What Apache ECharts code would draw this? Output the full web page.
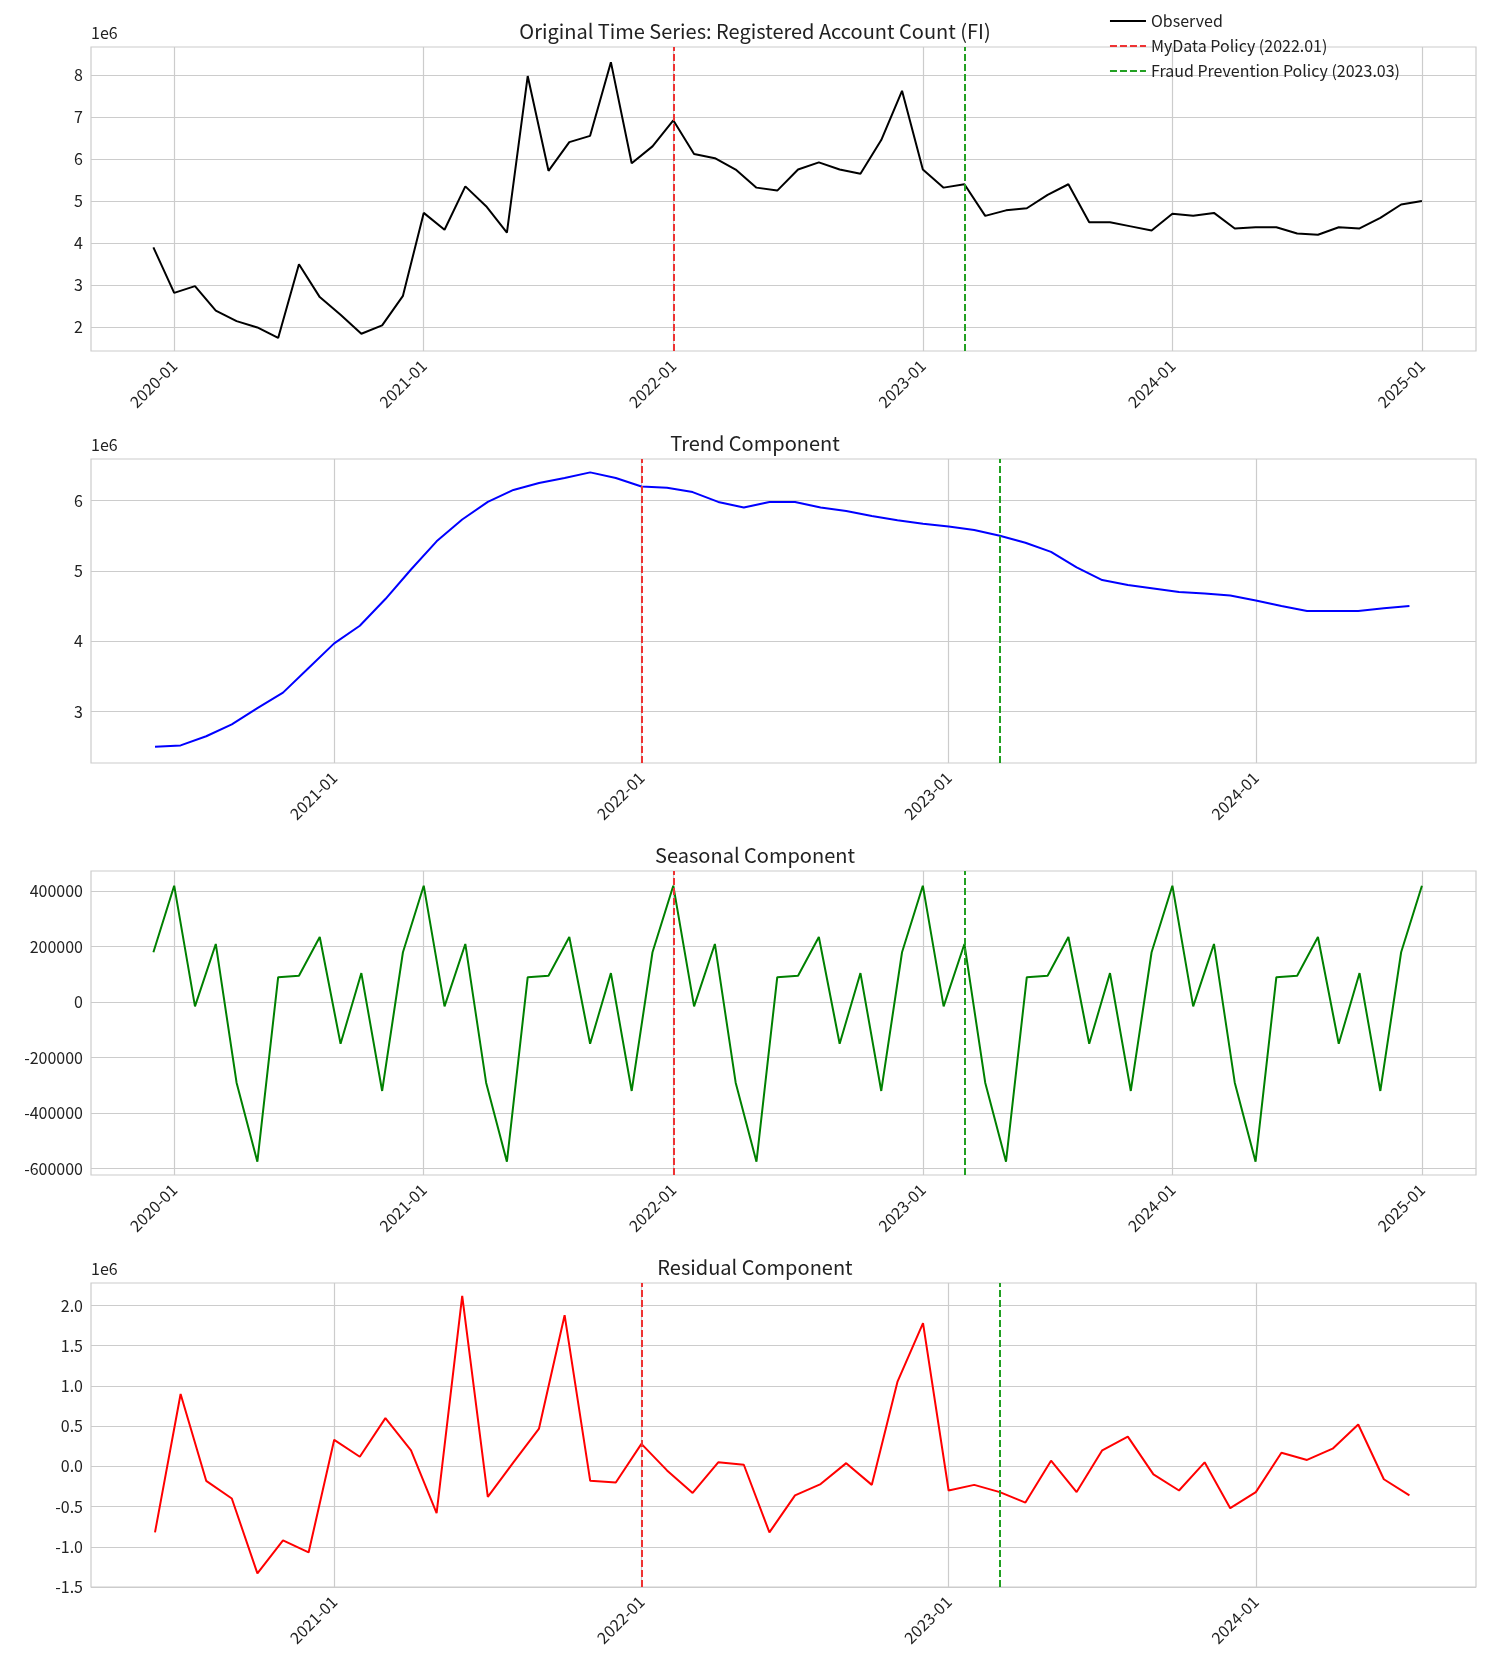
<!DOCTYPE html>
<html>
<head>
  <meta charset="utf-8">
  <title>Decomposition</title>
  <script src="https://cdn.jsdelivr.net/npm/echarts@6/dist/echarts.min.js"></script>
</head>
<body style="margin:0;background:#fff">
<div id="main" style="width:1510px;height:1676px;"></div>
<script type="text/javascript">
  // monthly data, 2019-12 .. 2025-01 (observed, seasonal), 2020-06 .. 2024-07 (trend, residual)
  var obsStart = '2019-12';
  var observed = [3.9,
    2.82, 2.98, 2.4, 2.15, 2.0, 1.75, 3.5, 2.72, 2.3, 1.85, 2.05, 2.75,
    4.72, 4.32, 5.35, 4.88, 4.25, 7.97, 5.72, 6.4, 6.55, 8.3, 5.9, 6.3,
    6.92, 6.12, 6.02, 5.75, 5.32, 5.25, 5.75, 5.92, 5.75, 5.65, 6.45, 7.62,
    5.75, 5.32, 5.4, 4.65, 4.78, 4.83, 5.15, 5.4, 4.5, 4.5, 4.4, 4.3,
    4.7, 4.65, 4.72, 4.35, 4.38, 4.38, 4.23, 4.2, 4.38, 4.35, 4.6, 4.92,
    5.0];
  var seasonal = [180000,
    420000, -15000, 210000, -290000, -575000, 90000, 95000, 235000, -150000, 105000, -320000, 180000,
    420000, -15000, 210000, -290000, -575000, 90000, 95000, 235000, -150000, 105000, -320000, 180000,
    420000, -15000, 210000, -290000, -575000, 90000, 95000, 235000, -150000, 105000, -320000, 180000,
    420000, -15000, 210000, -290000, -575000, 90000, 95000, 235000, -150000, 105000, -320000, 180000,
    420000, -15000, 210000, -290000, -575000, 90000, 95000, 235000, -150000, 105000, -320000, 180000,
    420000];
  var compStart = '2020-06';
  var trend = [2.5, 2.52, 2.65, 2.82, 3.05, 3.27, 3.62,
    3.97, 4.22, 4.6, 5.02, 5.42, 5.73, 5.98, 6.15, 6.25, 6.32, 6.4, 6.32,
    6.2, 6.18, 6.12, 5.98, 5.9, 5.98, 5.98, 5.9, 5.85, 5.78, 5.72, 5.67,
    5.63, 5.58, 5.5, 5.4, 5.27, 5.05, 4.87, 4.8, 4.75, 4.7, 4.68, 4.65,
    4.58, 4.5, 4.43, 4.43, 4.43, 4.47, 4.5];
  var residual = [-0.82, 0.9, -0.18, -0.4, -1.33, -0.92, -1.07,
    0.33, 0.12, 0.6, 0.2, -0.58, 2.12, -0.38, 0.05, 0.47, 1.88, -0.18, -0.2,
    0.28, -0.05, -0.33, 0.05, 0.02, -0.82, -0.36, -0.22, 0.04, -0.23, 1.05, 1.78,
    -0.3, -0.23, -0.32, -0.45, 0.07, -0.32, 0.2, 0.37, -0.1, -0.3, 0.05, -0.52,
    -0.32, 0.17, 0.08, 0.22, 0.52, -0.16, -0.36];
  var titles = ['Original Time Series: Registered Account Count (FI)', 'Trend Component', 'Seasonal Component', 'Residual Component'];
  var policyDates = ['2022-01', '2023-03'];
  var policyNames = ['MyData Policy (2022.01)', 'Fraud Prevention Policy (2023.03)'];
  var obsTicks = ['2020-01', '2021-01', '2022-01', '2023-01', '2024-01', '2025-01'];
  var compTicks = ['2021-01', '2022-01', '2023-01', '2024-01'];

  function toIdx(s) {
    var p = s.split('-');
    return (parseInt(p[0]) - 2020) * 12 + parseInt(p[1]) - 1;
  }
  function toLabel(v) {
    var y = 2020 + Math.floor(v / 12), m = v - Math.floor(v / 12) * 12 + 1;
    return y + '-' + (m < 10 ? '0' + m : m);
  }
  function pairs(start, arr) {
    var s = toIdx(start);
    return arr.map(function (v, i) { return [s + i, v]; });
  }

  var font = 'Noto Sans CJK KR';
  var tops = [47, 459, 871, 1283];
  var xRanges = [[-4.0, 62.6], [2.5, 56.6], [-4.0, 62.6], [2.5, 56.6]];
  var yRanges = [[1.44, 8.66], [2.27, 6.59], [-623000, 473000], [-1.5, 2.28]];
  var yTicks = [[2, 3, 4, 5, 6, 7, 8], [3, 4, 5, 6], [-600000, -400000, -200000, 0, 200000, 400000],
    [-1.5, -1.0, -0.5, 0.0, 0.5, 1.0, 1.5, 2.0]];
  var xTicks = [obsTicks, compTicks, obsTicks, compTicks];

  var grids = [], xAxes = [], yAxes = [], series = [], title = [], graphic = [];
  for (var k = 0; k < 4; k++) {
    grids.push({left: 91, right: 34, top: tops[k], height: 304, show: true, borderColor: '#cccccc', borderWidth: 1.2});
    title.push({text: titles[k], left: 'center', top: tops[k] - 31,
      textStyle: {fontFamily: font, fontSize: 20, fontWeight: 'normal', color: '#222'}});
    if (k !== 2) {
      graphic.push({type: 'text', left: 91, top: tops[k] - 22,
        style: {text: '1e6', font: '16px "' + font + '"', fill: '#222'}});
    }
    var xt = xTicks[k].map(toIdx);
    xAxes.push({
      type: 'value', gridIndex: k, min: xRanges[k][0], max: xRanges[k][1],
      axisLine: {show: false}, axisTick: {show: false, customValues: xt},
      axisLabel: {customValues: xt, rotate: 45, formatter: toLabel, fontFamily: font, fontSize: 16, color: '#222', margin: 12},
      splitLine: {show: true, lineStyle: {color: '#cccccc', width: 1.2}}
    });
    yAxes.push({
      type: 'value', gridIndex: k, min: yRanges[k][0], max: yRanges[k][1],
      axisLine: {show: false}, axisTick: {show: false, customValues: yTicks[k]},
      axisLabel: {customValues: yTicks[k], fontFamily: font, fontSize: 16, color: '#222',
        formatter: k === 3 ? function (v) { return v.toFixed(1); } : function (v) { return String(v); }},
      splitLine: {show: true, lineStyle: {color: '#cccccc', width: 1.2}}
    });
  }

  var dataSets = [pairs(obsStart, observed), pairs(compStart, trend), pairs(obsStart, seasonal), pairs(compStart, residual)];
  var colors = ['#000000', '#0000ff', '#008000', '#ff0000'];
  var names = ['Observed', 'Trend', 'Seasonal', 'Residual'];
  var policyColors = ['#ee3333', '#22a022'];
  for (var k = 0; k < 4; k++) {
    series.push({type: 'line', name: names[k], xAxisIndex: k, yAxisIndex: k, data: dataSets[k],
      symbol: 'none', lineStyle: {color: colors[k], width: 2}, itemStyle: {color: colors[k]}, animation: false});
    for (var p = 0; p < 2; p++) {
      series.push({type: 'line', name: k === 0 ? policyNames[p] : 'pl' + k + p, xAxisIndex: k, yAxisIndex: k, data: [],
        symbol: 'none', lineStyle: {color: policyColors[p], type: [7, 3], width: 2}, itemStyle: {color: policyColors[p]},
        animation: false,
        markLine: {symbol: 'none', silent: true, label: {show: false},
          lineStyle: {color: policyColors[p], type: [7, 3], width: 2},
          data: [{xAxis: toIdx(policyDates[p])}]}});
    }
  }

  var chart = echarts.init(document.getElementById('main'));
  chart.setOption({
    animation: false,
    title: title,
    graphic: graphic,
    legend: {data: ['Observed', policyNames[0], policyNames[1]], orient: 'vertical', right: 105, top: 8,
      itemGap: 9, itemWidth: 36, itemStyle: {opacity: 0},
      textStyle: {fontFamily: font, fontSize: 16, color: '#222'}},
    grid: grids, xAxis: xAxes, yAxis: yAxes, series: series
  });
</script>
</body>
</html>
